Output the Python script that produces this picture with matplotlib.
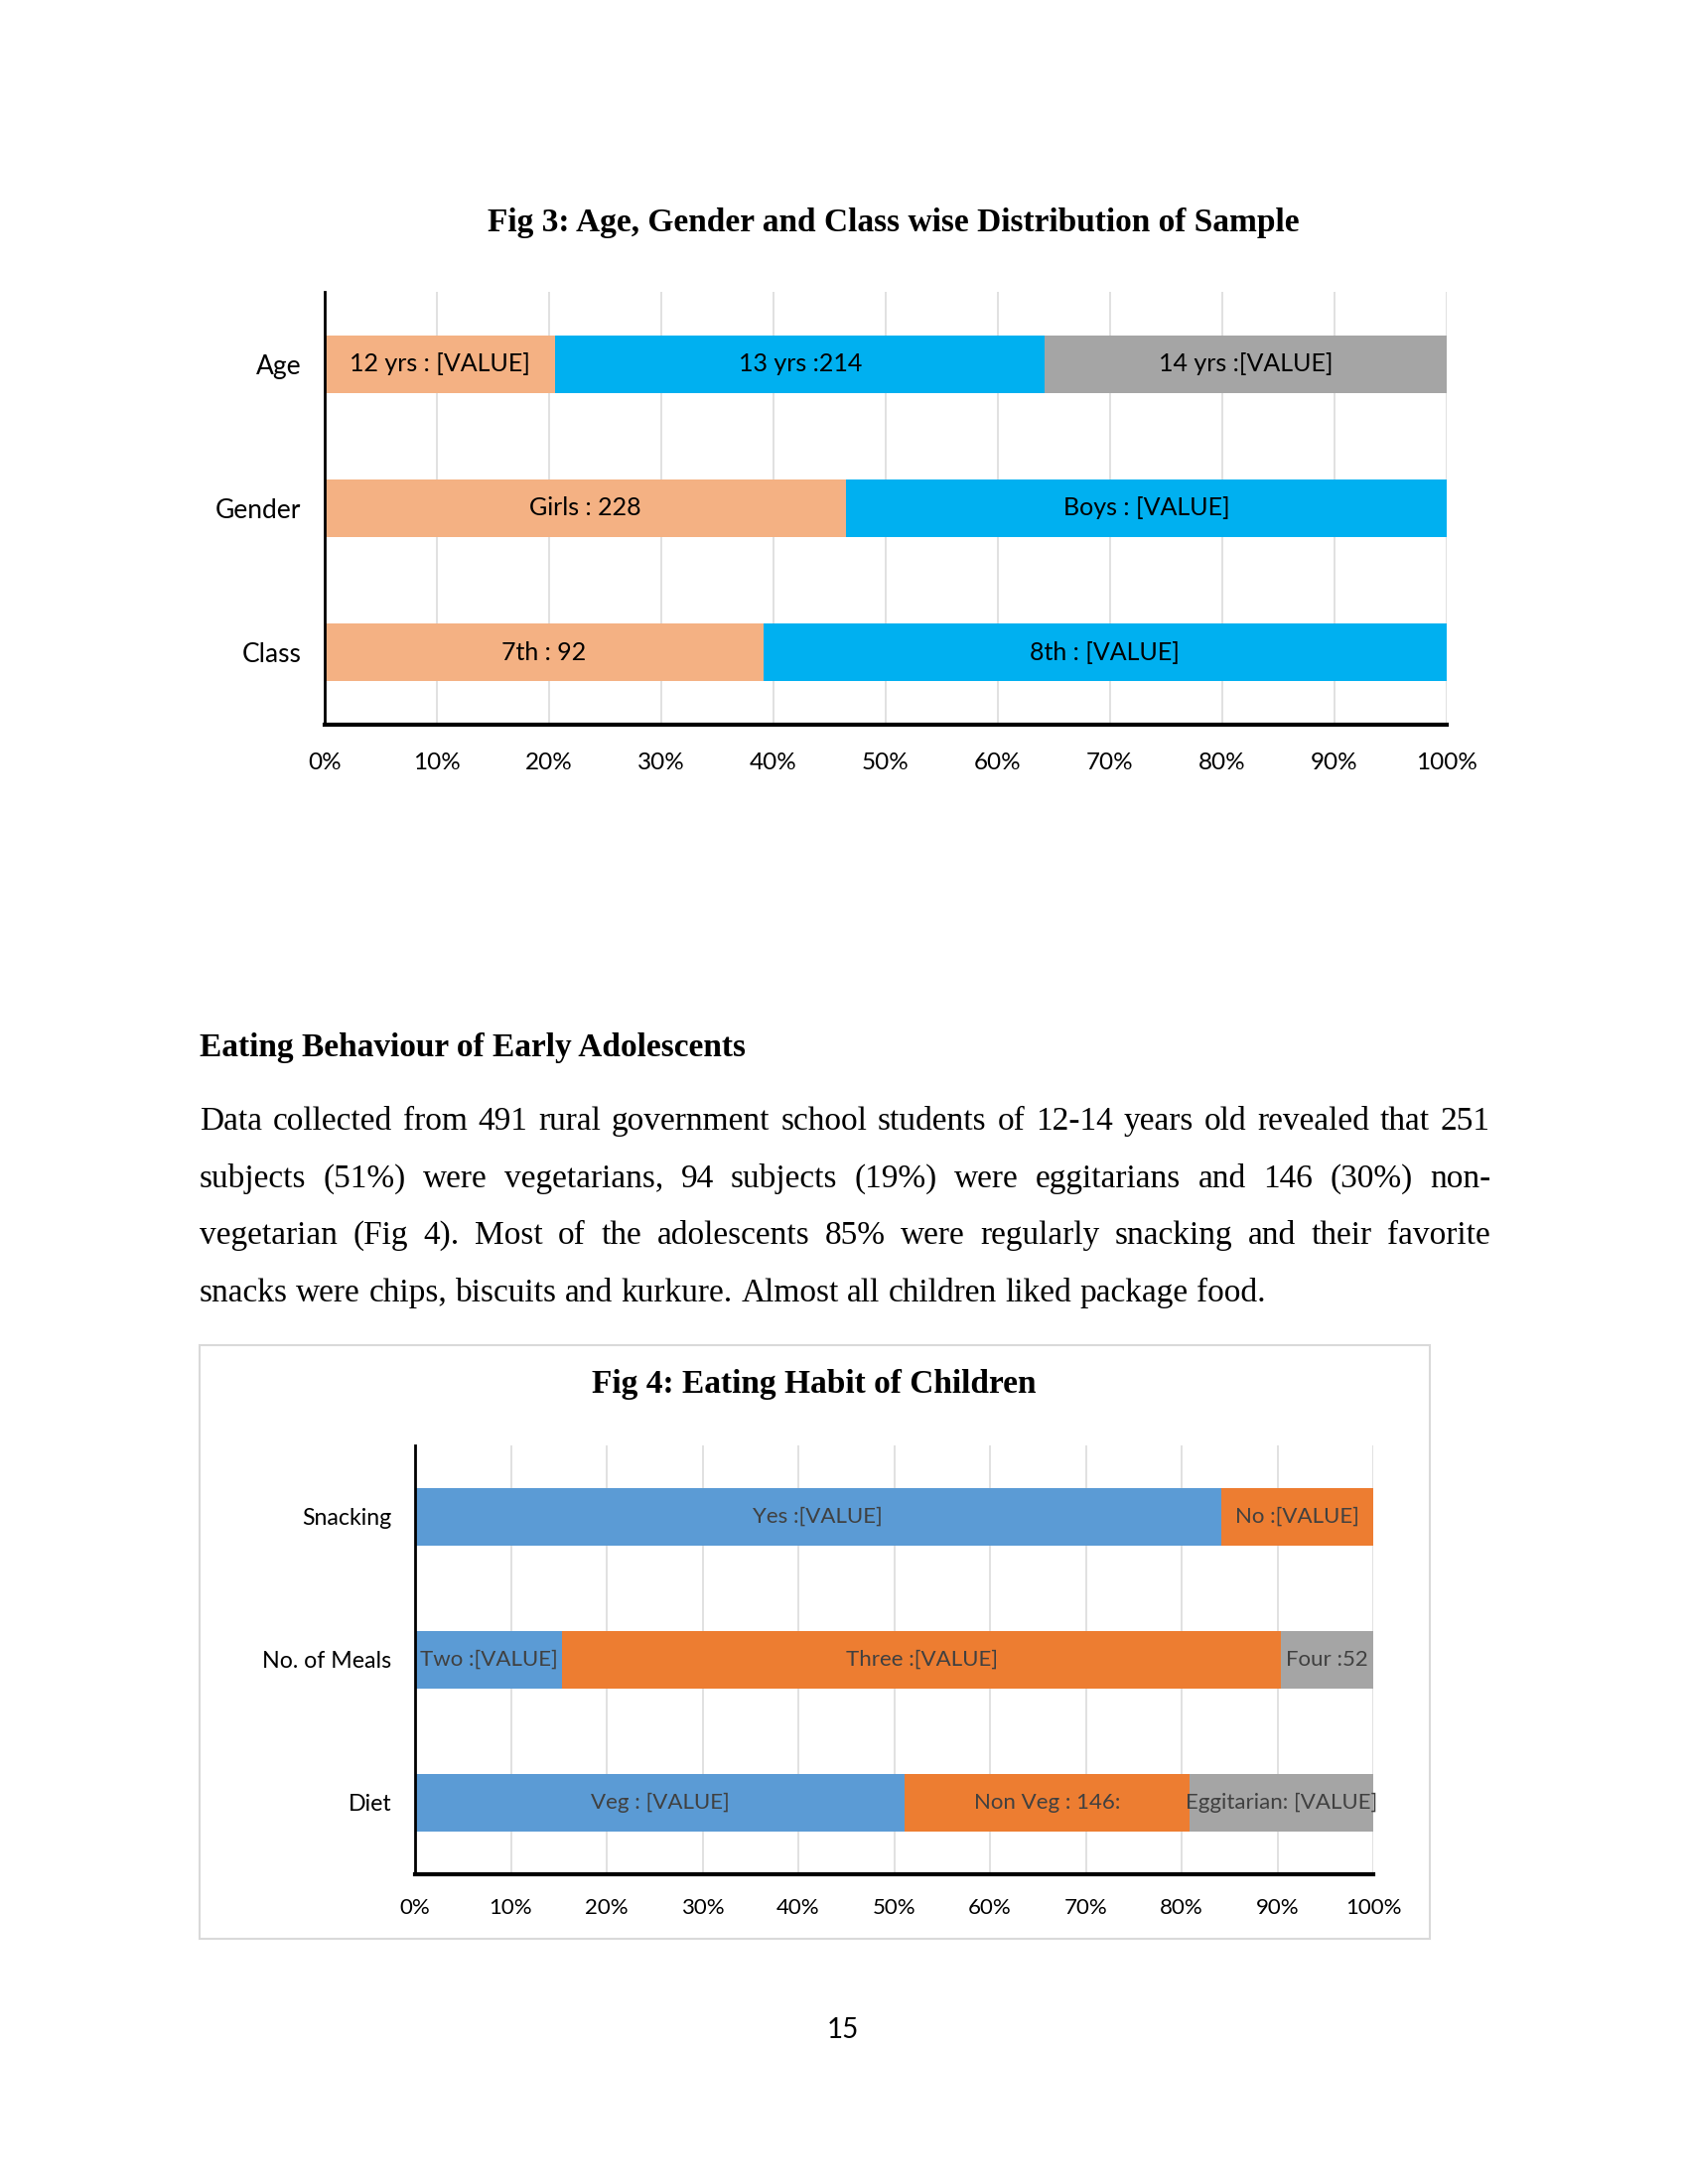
import matplotlib
matplotlib.use("Agg")
import matplotlib.pyplot as plt
from matplotlib.patches import Rectangle
from matplotlib.ticker import FuncFormatter

# Fig 3 data (bottom to top)
cats3 = ['Class', 'Gender', 'Age']
vals3 = [[192, 299], [228, 263], [101, 214, 176]]
labels3 = [['7th : 92', '8th : [VALUE]'],
           ['Girls : 228', 'Boys : [VALUE]'],
           ['12 yrs : [VALUE]', '13 yrs :214', '14 yrs :[VALUE]']]
colors3 = ['#F4B183', '#00B0F0', '#A5A5A5']

# Fig 4 data (bottom to top)
cats4 = ['Diet', 'No. of Meals', 'Snacking']
vals4 = [[251, 146, 94], [83, 407, 52], [413, 78]]
labels4 = [['Veg : [VALUE]', 'Non Veg : 146:', 'Eggitarian: [VALUE]'],
           ['Two :[VALUE]', 'Three :[VALUE]', 'Four :52'],
           ['Yes :[VALUE]', 'No :[VALUE]']]
colors4 = ['#5B9BD5', '#ED7D31', '#A5A5A5']

heading = 'Eating Behaviour of Early Adolescents'
para = ['Data collected from 491 rural government school students of 12-14 years old revealed that 251',
        'subjects (51%) were vegetarians, 94 subjects (19%) were eggitarians and 146 (30%) non-',
        'vegetarian (Fig 4). Most of the adolescents 85% were regularly snacking and their favorite',
        'snacks were chips, biscuits and kurkure. Almost all children liked package food.']

W, H = 1700, 2200
fig = plt.figure(figsize=(17, 22), dpi=100)
serif = 'Liberation Serif'
sans = 'Lato'


def px(x, y):
    return x / W, 1 - y / H


def stacked(ax, cats, vals, labels, colors, fs_lab, lab_color, fs_tick, fs_cat, ypad, xpad):
    for i, (row, labs) in enumerate(zip(vals, labels)):
        tot = sum(row)
        left = 0
        for j, (v, lab) in enumerate(zip(row, labs)):
            w = v / tot * 100
            ax.barh(i, w, left=left, height=0.4, color=colors[j], zorder=2)
            ax.text(left + w / 2, i, lab, ha='center', va='center',
                    fontsize=fs_lab, color=lab_color, family=sans, zorder=3)
            left += w
    ax.set_xlim(0, 100)
    ax.set_ylim(-0.5, len(cats) - 0.5)
    ax.set_xticks(range(0, 101, 10))
    ax.xaxis.set_major_formatter(FuncFormatter(lambda v, p: '%d%%' % v))
    ax.set_yticks(range(len(cats)))
    ax.set_yticklabels(cats)
    ax.tick_params(length=0)
    ax.tick_params(axis='y', pad=ypad, labelsize=fs_cat)
    ax.tick_params(axis='x', pad=xpad, labelsize=fs_tick)
    for t in ax.get_xticklabels() + ax.get_yticklabels():
        t.set_family(sans)
    ax.grid(axis='x', color='#D9D9D9', lw=1.1, zorder=0)
    ax.set_axisbelow(True)
    ax.spines['top'].set_visible(False)
    ax.spines['right'].set_visible(False)
    ax.spines['left'].set_linewidth(2)
    ax.spines['bottom'].set_linewidth(3)


# Fig 3
ax3 = fig.add_axes([327 / W, 1 - 730 / H, (1457 - 327) / W, (730 - 294) / H])
stacked(ax3, cats3, vals3, labels3, colors3, 18, 'black', 17.5, 19, 17, 20)
fig.text(*px(900, 225), 'Fig 3: Age, Gender and Class wise Distribution of Sample',
         ha='center', va='center', fontsize=24, fontweight='bold', family=serif)

# heading + justified paragraph
fig.text(*px(201, 1064), heading, ha='left', va='baseline', fontsize=24,
         fontweight='bold', family=serif)

r = fig.canvas.get_renderer()
x0, x1 = 201, 1501
for i, line in enumerate(para):
    words = line.split()
    y = 1138 + i * 57.6
    texts = [fig.text(0, 1 - y / H, w, ha='left', va='baseline', fontsize=24, family=serif)
             for w in words]
    widths = [t.get_window_extent(r).width for t in texts]
    if i < len(para) - 1:
        gap = (x1 - x0 - sum(widths)) / (len(words) - 1)
    else:
        sp = fig.text(0, 0, 'a a', fontsize=24, family=serif)
        sp2 = fig.text(0, 0, 'aa', fontsize=24, family=serif)
        gap = sp.get_window_extent(r).width - sp2.get_window_extent(r).width
        sp.remove()
        sp2.remove()
    x = x0
    for t, w in zip(texts, widths):
        t.set_x(x / W)
        x += w + gap

# Fig 4 box
fig.patches.append(Rectangle(px(201, 1953), (1440 - 201) / W, (1953 - 1355) / H,
                             transform=fig.transFigure, fill=False,
                             edgecolor='#D9D9D9', lw=1.5))
fig.text(*px(820, 1394), 'Fig 4: Eating Habit of Children', ha='center', va='center',
         fontsize=24, fontweight='bold', family=serif)
ax4 = fig.add_axes([418 / W, 1 - 1888 / H, (1383 - 418) / W, (1888 - 1456) / H])
stacked(ax4, cats4, vals4, labels4, colors4, 16, '#404040', 16, 16.7, 17, 17)

fig.text(*px(849, 2045), '15', ha='center', va='center', fontsize=20, family=sans)

fig.savefig('out.png', dpi=100, facecolor='white')
